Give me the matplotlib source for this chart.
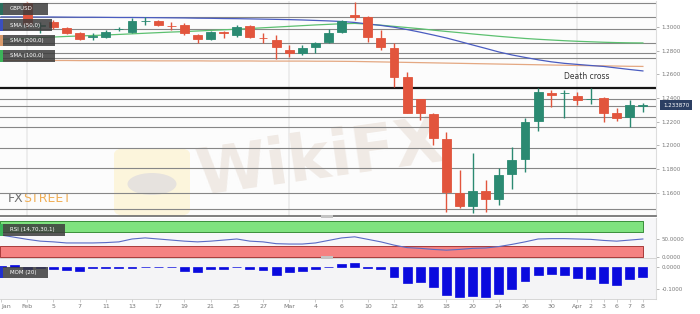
import matplotlib
matplotlib.use('Agg')
import matplotlib.pyplot as plt
from matplotlib.patches import Rectangle, FancyBboxPatch, Circle
from matplotlib.ticker import FormatStrFormatter
import numpy as np

plt.rcParams['font.family'] = ['DejaVu Sans']

# ---------------- data ----------------
dates = ['2020-01-30', '2020-01-31',
         '2020-02-03', '2020-02-04', '2020-02-05', '2020-02-06', '2020-02-07',
         '2020-02-10', '2020-02-11', '2020-02-12', '2020-02-13', '2020-02-14',
         '2020-02-17', '2020-02-18', '2020-02-19', '2020-02-20', '2020-02-21',
         '2020-02-24', '2020-02-25', '2020-02-26', '2020-02-27', '2020-02-28',
         '2020-03-02', '2020-03-03', '2020-03-04', '2020-03-05', '2020-03-06',
         '2020-03-09', '2020-03-10', '2020-03-11', '2020-03-12', '2020-03-13',
         '2020-03-16', '2020-03-17', '2020-03-18', '2020-03-19', '2020-03-20',
         '2020-03-23', '2020-03-24', '2020-03-25', '2020-03-26', '2020-03-27',
         '2020-03-30', '2020-03-31',
         '2020-04-01', '2020-04-02', '2020-04-03', '2020-04-06', '2020-04-07', '2020-04-08']

nan = np.nan
opens = [nan, nan,
         1.3200, 1.3010, 1.3042, 1.2992, 1.2949, 1.2912, 1.2916, 1.2981, 1.2958, 1.3047,
         1.3051, 1.3012, 1.3017, 1.2932, 1.2899, 1.2958, 1.2932, 1.3008, 1.2910, 1.2890,
         1.2806, 1.2781, 1.2831, 1.2873, 1.2958, 1.3101, 1.3084, 1.2907, 1.2823, 1.2578,
         1.2392, 1.2266, 1.2055, 1.1599, 1.1489, 1.1616, 1.1548, 1.1759, 1.1886, 1.2207,
         1.2440, 1.2440,
         1.2418, 1.2390, 1.2401, 1.2274, 1.2240, 1.2335]
highs = [nan, nan,
         1.3207, 1.3042, 1.3059, 1.3000, 1.2955, 1.2949, 1.2975, 1.3000, 1.3076, 1.3084,
         1.3059, 1.3042, 1.3034, 1.2940, 1.2966, 1.2962, 1.3017, 1.3017, 1.2949, 1.2932,
         1.2848, 1.2848, 1.2873, 1.2983, 1.3059, 1.3211, 1.3090, 1.2975, 1.2865, 1.2620,
         1.2395, 1.2274, 1.2114, 1.1793, 1.1937, 1.1709, 1.1810, 1.1987, 1.2232, 1.2485,
         1.2468, 1.2468,
         1.2451, 1.2485, 1.2405, 1.2316, 1.2384, 1.2359]
lows = [nan, nan,
        1.2995, 1.2949, 1.2983, 1.2940, 1.2890, 1.2890, 1.2907, 1.2966, 1.2949, 1.3017,
        1.3008, 1.2975, 1.2932, 1.2865, 1.2890, 1.2907, 1.2916, 1.2907, 1.2865, 1.2730,
        1.2747, 1.2764, 1.2781, 1.2865, 1.2949, 1.3059, 1.2873, 1.2806, 1.2494, 1.2270,
        1.2215, 1.2004, 1.1439, 1.1472, 1.1430, 1.1439, 1.1498, 1.1633, 1.1776, 1.2122,
        1.2325, 1.2232,
        1.2342, 1.2350, 1.2198, 1.2207, 1.2156, 1.2283]
closes = [nan, nan,
          1.3025, 1.3015, 1.3000, 1.2949, 1.2899, 1.2925, 1.2958, 1.2986, 1.3051, 1.3051,
          1.3017, 1.3004, 1.2949, 1.2899, 1.2958, 1.2945, 1.3000, 1.2916, 1.2903, 1.2831,
          1.2781, 1.2823, 1.2865, 1.2949, 1.3051, 1.3084, 1.2916, 1.2831, 1.2578, 1.2274,
          1.2274, 1.2063, 1.1607, 1.1489, 1.1616, 1.1548, 1.1751, 1.1877, 1.2198, 1.2451,
          1.2430, 1.2445,
          1.2384, 1.2395, 1.2274, 1.2232, 1.2342, 1.23387]

sma50 = [1.3085, 1.3085,
         1.3085, 1.3084, 1.3084, 1.3083, 1.3082, 1.3082, 1.3081, 1.3080, 1.3080, 1.3079,
         1.3078, 1.3077, 1.3076, 1.3074, 1.3073, 1.3071, 1.3070, 1.3068, 1.3066, 1.3064,
         1.3062, 1.3059, 1.3055, 1.3051, 1.3046, 1.3038, 1.3025, 1.3013, 1.2998, 1.2978,
         1.2956, 1.2932, 1.2907, 1.2878, 1.2848, 1.2819, 1.2789, 1.2764, 1.2743, 1.2723,
         1.2706, 1.2693,
         1.2684, 1.2675, 1.2667, 1.2654, 1.2641, 1.2629]
sma100 = [1.2895, 1.2900,
          1.2905, 1.2910, 1.2915, 1.2920, 1.2924, 1.2928, 1.2932, 1.2937, 1.2942, 1.2947,
          1.2952, 1.2957, 1.2961, 1.2966, 1.2971, 1.2976, 1.2981, 1.2987, 1.2993, 1.2999,
          1.3005, 1.3011, 1.3017, 1.3022, 1.3027, 1.3030, 1.3024, 1.3015, 1.3005, 1.2995,
          1.2985, 1.2973, 1.2962, 1.2952, 1.2941, 1.2931, 1.2921, 1.2912, 1.2903, 1.2896,
          1.2890, 1.2884,
          1.2879, 1.2875, 1.2871, 1.2868, 1.2866, 1.2865]
sma200 = [1.2718, 1.2718,
          1.2718, 1.2717, 1.2717, 1.2717, 1.2716, 1.2716, 1.2716, 1.2715, 1.2715, 1.2715,
          1.2714, 1.2714, 1.2714, 1.2714, 1.2713, 1.2713, 1.2713, 1.2713, 1.2712, 1.2712,
          1.2712, 1.2712, 1.2711, 1.2711, 1.2710, 1.2709, 1.2707, 1.2705, 1.2703, 1.2701,
          1.2699, 1.2697, 1.2695, 1.2693, 1.2691, 1.2689, 1.2687, 1.2685, 1.2683, 1.2681,
          1.2679, 1.2677,
          1.2675, 1.2673, 1.2672, 1.2670, 1.2668, 1.2667]

rsi = [61, 55,
       49, 44, 42, 39, 39, 39, 40, 42, 50, 53,
       50, 47, 44, 42, 44, 47, 50, 44, 42, 37,
       36, 36, 39, 46, 53, 56, 49, 42, 33, 26,
       24, 21, 19, 21, 24, 25, 29, 35, 42, 50,
       51, 51,
       50, 49, 46, 44, 47, 50]
rsi_upper, rsi_lower = 70, 30

mom = [0.005, 0.010,
       -0.010, -0.005, -0.008, -0.013, -0.018, -0.005, -0.005, -0.006, -0.003, 0.002,
       0.000, -0.002, -0.018, -0.022, -0.008, -0.010, -0.002, -0.010, -0.015, -0.035,
       -0.022, -0.018, -0.008, -0.002, 0.015, 0.018, -0.005, -0.010, -0.045, -0.073,
       -0.070, -0.090, -0.128, -0.136, -0.132, -0.136, -0.122, -0.100, -0.065, -0.035,
       -0.033, -0.038,
       -0.048, -0.053, -0.075, -0.083, -0.056, -0.045]

sr_levels = [1.3203, 1.3084, 1.2983, 1.2865, 1.2781, 1.2738, 1.2392, 1.2333,
             1.2240, 1.2156, 1.1979, 1.1810, 1.1599, 1.1464]
key_level = 1.2485
last_price = 1.233870

price_ticks = [1.16, 1.18, 1.20, 1.22, 1.24, 1.26, 1.28, 1.30]
tick_dates = ['2020-01-30', '2020-02-03', '2020-02-05', '2020-02-07', '2020-02-11',
              '2020-02-13', '2020-02-17', '2020-02-19', '2020-02-21', '2020-02-25',
              '2020-02-27', '2020-03-02', '2020-03-04', '2020-03-06', '2020-03-10',
              '2020-03-12', '2020-03-16', '2020-03-18', '2020-03-20', '2020-03-24',
              '2020-03-26', '2020-03-30', '2020-04-01', '2020-04-02', '2020-04-03',
              '2020-04-06', '2020-04-07', '2020-04-08']
tick_labels = ['Jan', 'Feb', '5', '7', '11', '13', '17', '19', '21', '25', '27',
               'Mar', '4', '6', '10', '12', '16', '18', '20', '24', '26', '30',
               'Apr', '2', '3', '6', '7', '8']

# ---------------- layout ----------------
W, H = 700, 314
fig = plt.figure(figsize=(7.0, 3.14), dpi=100)
fig.patch.set_facecolor('white')


def rect(x0, y0, x1, y1):
    return [x0 / W, 1 - y1 / H, (x1 - x0) / W, (y1 - y0) / H]


ax = fig.add_axes(rect(0, 1, 656, 216))
ax_rsi = fig.add_axes(rect(0, 218, 656, 258), sharex=ax)
ax_mom = fig.add_axes(rect(0, 259, 656, 299), sharex=ax)

x = np.arange(len(dates))
o = np.array(opens); h = np.array(highs); l = np.array(lows); c = np.array(closes)
valid = ~np.isnan(o)
RED, GREEN = '#e2553d', '#2b8a72'
cols = np.where(c >= o, GREEN, RED)

# main panel
ax.set_facecolor('#fcfcfc')
for d in ['2020-02-03', '2020-03-02', '2020-04-01']:
    ax.axvline(dates.index(d), color='#ebebeb', lw=1.2, zorder=0.4)

# watermark
ax.text(320 / W, 1 - 160 / H, 'WikiFX', transform=fig.transFigure, fontsize=46,
        fontweight='bold', color='#f0eae5', rotation=8, ha='center', va='center',
        zorder=0.5)
ax.add_patch(FancyBboxPatch((114 / W, 1 - 216 / H), 76 / W, 68 / H,
                            boxstyle='round,pad=0,rounding_size=0.02',
                            transform=fig.transFigure, fc='#fcf5dc', ec='none', zorder=0.45))
ax.add_patch(Circle((152 / W, 1 - 184 / H), 0.035, transform=fig.transFigure,
                    fc='#e6e2de', ec='none', zorder=0.46))
ax.text(8 / W, 1 - 199 / H, 'FX', transform=fig.transFigure, fontsize=9,
        color='#707070', va='center', ha='left', zorder=0.6)
ax.text(23 / W, 1 - 199 / H, 'STREET', transform=fig.transFigure, fontsize=9,
        color='#f0ae55', va='center', ha='left', zorder=0.6)

for lv in sr_levels:
    ax.axhline(lv, color='#878787', lw=0.8, zorder=1)
ax.axhline(key_level, color='#151515', lw=1.6, zorder=1.1)

ax.plot(x, sma200, color='#e4a882', lw=0.9, zorder=1.5)
ax.plot(x, sma100, color='#5cc070', lw=0.9, zorder=1.6)
ax.plot(x, sma50, color='#4a5cc0', lw=0.9, zorder=1.7)

ax.vlines(x[valid], l[valid], h[valid], colors=cols[valid], lw=1.0, zorder=2)
ax.bar(x[valid], np.abs(c - o)[valid], bottom=np.minimum(o, c)[valid], width=0.68,
       color=cols[valid], edgecolor=cols[valid], lw=0.6, zorder=3)

ax.text(44.7, 1.2586, 'Death cross', fontsize=5.5, color='#333333',
        ha='center', va='center', zorder=4)

ax.set_xlim(-0.08, 50.0)
ax.set_ylim(1.1405, 1.3219)
ax.set_yticks(price_ticks)
ax.yaxis.set_major_formatter(FormatStrFormatter('%.4f'))

ax.annotate(f'{last_price:.6f}', xy=(1.0, last_price), xycoords=('axes fraction', 'data'),
            xytext=(5, 0), textcoords='offset points', va='center', ha='left',
            fontsize=4, color='white', annotation_clip=False,
            bbox=dict(boxstyle='square,pad=0.45', fc='#2c3f63', ec='none'))

# RSI panel
ax_rsi.set_facecolor('#f7f7f9')
xb = [x[0] - 0.08, x[-1]]
ax_rsi.fill_between(xb, rsi_upper, 100, color='#7fe27f', edgecolor='#3a8f3a', lw=0.7)
ax_rsi.fill_between(xb, 0, rsi_lower, color='#f58282', edgecolor='#a83a3a', lw=0.7)
ax_rsi.plot(x, rsi, color='#5a6bc4', lw=0.8)
ax_rsi.set_ylim(-2.8, 108.3)
ax_rsi.set_yticks([0, 50])
ax_rsi.yaxis.set_major_formatter(FormatStrFormatter('%.4f'))

# MOM panel
ax_mom.set_facecolor('#f4f4f6')
ax_mom.bar(x, mom, width=0.68, color='#0a0ade', edgecolor='#0a0ade', lw=0.5)
ax_mom.set_ylim(-0.1455, 0.0364)
ax_mom.set_yticks([0, -0.1])
ax_mom.yaxis.set_major_formatter(FormatStrFormatter('%.4f'))

ax_mom.set_xticks([dates.index(d) for d in tick_dates])
ax_mom.set_xticklabels(tick_labels)
ax_mom.get_xticklabels()[0].set_ha('left')

for a in (ax, ax_rsi, ax_mom):
    a.yaxis.tick_right()
    a.tick_params(axis='y', left=False, right=True, labelleft=False, labelright=True,
                  length=2, width=0.5, color='#999999', labelsize=4,
                  labelcolor='#777777', pad=2)
    for s in ('top', 'left'):
        a.spines[s].set_visible(False)
    a.spines['right'].set_color('#dddddd')
    a.spines['right'].set_linewidth(0.8)
for a in (ax, ax_rsi):
    a.tick_params(axis='x', bottom=False, labelbottom=False)
ax.spines['bottom'].set_color('#6a6a6a')
ax.spines['bottom'].set_linewidth(1.2)
ax_rsi.spines['bottom'].set_color('#cfcfcf')
ax_rsi.spines['bottom'].set_linewidth(0.6)
ax_mom.spines['bottom'].set_color('#d0d0d0')
ax_mom.spines['bottom'].set_linewidth(0.6)
ax_mom.tick_params(axis='x', length=2, width=0.5, color='#bbbbbb', labelsize=4.5,
                   labelcolor='#777777', pad=1.5)

# legend boxes
legend_boxes = [('GBPUSD', 3, 48, 3, 15, '#2a6e5e'),
                ('SMA (50,0)', 3, 52, 19, 31, '#3a4fc0'),
                ('SMA (200,0)', 3, 55, 35, 46, '#d99a6c'),
                ('SMA (100,0)', 3, 55, 50, 62, '#3cb55a'),
                ('RSI (14,70,30,1)', 3, 65, 224, 236, '#3cb55a'),
                ('MOM (20)', 3, 48, 267, 278, '#2030d0')]
for txt, x0, x1, y0, y1, mk in legend_boxes:
    fig.add_artist(Rectangle((x0 / W, 1 - y1 / H), (x1 - x0) / W, (y1 - y0) / H,
                             transform=fig.transFigure, fc='#3c3c3c', ec='none', alpha=0.85))
    fig.add_artist(Rectangle((0, 1 - y1 / H), x0 / W, (y1 - y0) / H,
                             transform=fig.transFigure, fc=mk, ec='none'))
    fig.text(10 / W, 1 - (y0 + y1) / 2 / H, txt, fontsize=4, color='white',
             ha='left', va='center')

# panel grips
for gy in (215, 256):
    fig.add_artist(Rectangle((321 / W, 1 - (gy + 3) / H), 12 / W, 3 / H,
                             transform=fig.transFigure, fc='#c4c4c4', ec='none'))

fig.savefig('out.png', dpi=100, facecolor='white')
